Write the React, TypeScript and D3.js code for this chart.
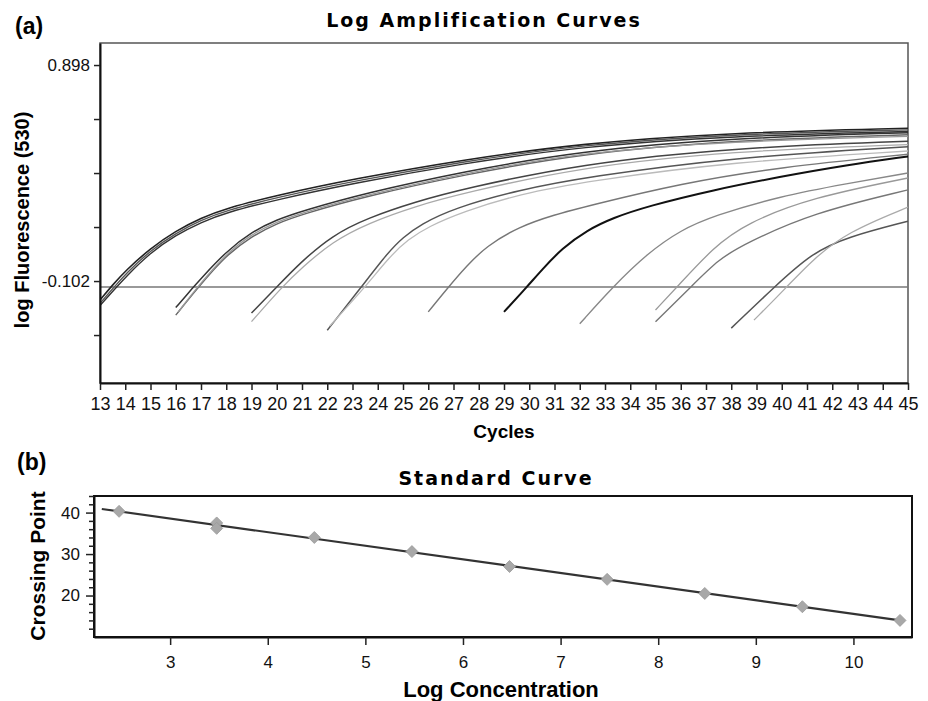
import React, { Component } from "react";
import * as d3 from "d3";

// ---- (a) amplification curves: [cycle, log fluorescence]
const cycleTicks = [13, 14, 15, 16, 17, 18, 19, 20, 21, 22, 23, 24, 25, 26, 27, 28, 29, 30, 31, 32, 33, 34, 35, 36, 37, 38, 39, 40, 41, 42, 43, 44, 45];
const fluorTicks = [0.898, 0.648, 0.398, 0.148, -0.102, -0.352];
const fluorLabels = ["0.898", "", "", "", "-0.102", ""];
const threshold = -0.13;

const curve1a = [[13, -0.19], [13.5, -0.12], [14, -0.055], [15, 0.05], [16, 0.13], [17, 0.19], [18, 0.235], [20, 0.295], [23, 0.37], [27.4, 0.46], [32, 0.535], [38, 0.585], [45, 0.605]];
const curve1b = [[13, -0.205], [13.6, -0.125], [14, -0.07], [15, 0.04], [16, 0.12], [17, 0.18], [18, 0.225], [20, 0.285], [23, 0.36], [27.4, 0.452], [32, 0.528], [38, 0.578], [45, 0.598]];
const curve1c = [[13, -0.215], [13.7, -0.125], [14, -0.085], [15, 0.03], [16, 0.11], [17, 0.17], [18, 0.215], [20, 0.275], [23, 0.35], [27.4, 0.443], [32, 0.52], [38, 0.57], [45, 0.59]];
const curve2a = [[16, -0.225], [16.7, -0.13], [17, -0.09], [18, 0.035], [19, 0.125], [20, 0.182], [21, 0.222], [23.5, 0.305], [27.4, 0.405], [32, 0.5], [38, 0.56], [45, 0.585]];
const curve2b = [[16, -0.26], [16.9, -0.13], [17.5, -0.05], [18, 0.015], [19, 0.105], [20, 0.165], [21, 0.207], [23.5, 0.29], [27.4, 0.39], [32, 0.487], [38, 0.55], [45, 0.575]];
const curve2c = [[16.1, -0.245], [16.85, -0.13], [18, 0.025], [19, 0.115], [20, 0.172], [21, 0.214], [23.5, 0.296], [27.4, 0.396], [32, 0.493], [38, 0.545], [45, 0.568]];
const curve3a = [[19, -0.25], [20, -0.13], [20.9, -0.02], [22.2, 0.11], [23.6, 0.19], [25.5, 0.265], [27.4, 0.325], [32, 0.44], [38, 0.515], [45, 0.545]];
const curve3b = [[19, -0.29], [20.2, -0.13], [21, -0.04], [22.2, 0.08], [23.6, 0.165], [25.5, 0.245], [27.4, 0.305], [32, 0.425], [38, 0.5], [45, 0.53]];
const curve4a = [[22, -0.33], [23.35, -0.13], [24.4, 0.03], [25, 0.1], [25.7, 0.16], [27, 0.235], [29.6, 0.32], [32.3, 0.38], [38, 0.47], [45, 0.52]];
const curve4b = [[22.1, -0.31], [23.5, -0.13], [24.5, 0.015], [25.2, 0.09], [26, 0.15], [27.4, 0.22], [29.6, 0.3], [32.3, 0.36], [38, 0.45], [45, 0.5]];
const curve5 = [[26, -0.245], [26.8, -0.13], [27.5, -0.035], [28.3, 0.06], [29.6, 0.15], [31, 0.205], [32.3, 0.245], [36, 0.35], [39.9, 0.425], [45, 0.485]];
const curve6 = [[29, -0.245], [29.9, -0.13], [30.5, -0.05], [31.3, 0.05], [32.3, 0.134], [33.3, 0.19], [34.7, 0.245], [37.3, 0.32], [39.9, 0.38], [42.6, 0.435], [45, 0.475]];
const curve7 = [[32, -0.3], [33.3, -0.13], [34.7, 0.028], [36, 0.134], [37.3, 0.2], [39.9, 0.29], [42.6, 0.35], [45, 0.398]];
const curve8a = [[35, -0.236], [35.85, -0.13], [37.3, 0.055], [38.6, 0.166], [41.2, 0.285], [45, 0.375]];
const curve8b = [[35, -0.29], [36.4, -0.13], [37.5, 0.0], [38.6, 0.074], [41.2, 0.213], [45, 0.32]];
const curve9a = [[38, -0.32], [39.7, -0.13], [41.2, 0.028], [42.6, 0.102], [45, 0.175]];
const curve9b = [[38.9, -0.283], [40.2, -0.13], [41.2, -0.005], [42.6, 0.125], [45, 0.24]];

// ---- (b) standard curve
const logConc = [2.477, 3.477, 3.477, 4.477, 5.477, 6.477, 7.477, 8.477, 9.477, 10.477];
const crossingPoint = [40.3, 37.5, 36.2, 34.0, 30.6, 27.0, 23.9, 20.5, 17.3, 14.0];
const concTicks = [3, 4, 5, 6, 7, 8, 9, 10];
const cpTicks = [20, 30, 40];
const cpMinorTicks = [12, 14, 16, 18, 22, 24, 26, 28, 32, 34, 36, 38, 42, 44];

const sans = "'Liberation Sans', Arial, sans-serif";
const titleFont = "'DejaVu Sans', Verdana, sans-serif";

class App extends Component {
  ref = React.createRef<SVGSVGElement>();

  componentDidMount() {
    document.body.style.margin = "0";
    this.drawChart();
  }

  drawChart() {
    const svg = d3.select(this.ref.current);
    svg.selectAll("*").remove();

    // ===== (a) Log Amplification Curves
    const x = d3.scaleLinear().domain([13, 45]).range([100, 908]);
    const y = d3.scaleLinear().domain([-0.574, 1.0]).range([383, 43]);

    svg.append("text").attr("x", 15).attr("y", 34).text("(a)")
      .style("font-family", sans).style("font-weight", "bold").style("font-size", "23px");

    svg.append("text").attr("x", 484).attr("y", 27).attr("text-anchor", "middle")
      .text("Log Amplification Curves")
      .style("font-family", titleFont).style("font-weight", "bold")
      .style("font-size", "19px").style("letter-spacing", "2px");

    svg.append("rect").attr("x", 100).attr("y", 43).attr("width", 808).attr("height", 340)
      .attr("fill", "white").attr("stroke", "#555").attr("stroke-width", 1.5);

    svg.append("defs").append("clipPath").attr("id", "plotA")
      .append("rect").attr("x", 100).attr("y", 43).attr("width", 808).attr("height", 340);

    svg.append("line")
      .attr("x1", x(13)).attr("x2", x(45)).attr("y1", y(threshold)).attr("y2", y(threshold))
      .attr("stroke", "#777").attr("stroke-width", 1.5);

    const curves = [curve1a, curve1b, curve1c, curve2a, curve2b, curve2c, curve3a, curve3b,
      curve4a, curve4b, curve5, curve6, curve7, curve8a, curve8b, curve9a, curve9b];
    const colors = ["#222", "#555", "#333", "#333", "#666", "#999", "#444", "#aaa",
      "#555", "#bbb", "#777", "#111", "#888", "#999", "#777", "#555", "#aaa"];
    const widths = [1.6, 1.4, 1.4, 1.5, 1.4, 1.3, 1.5, 1.3, 1.5, 1.3, 1.4, 2, 1.4, 1.3, 1.4, 1.5, 1.3];

    const line = d3.line<number[]>()
      .x(d => x(d[0]))
      .y(d => y(d[1]))
      .curve(d3.curveBasis);

    svg.append("g").attr("clip-path", "url(#plotA)")
      .selectAll("path")
      .data(curves)
      .enter()
      .append("path")
      .attr("d", d => line(d))
      .attr("fill", "none")
      .attr("stroke", (d, i) => colors[i])
      .attr("stroke-width", (d, i) => widths[i]);

    const xAxisA = svg.append("g")
      .attr("transform", "translate(0, 383)")
      .call(d3.axisBottom(x).tickValues(cycleTicks).tickFormat(d3.format("d"))
        .tickSize(7).tickPadding(7).tickSizeOuter(0));
    xAxisA.selectAll("text").style("font-family", sans).style("font-size", "18px").attr("fill", "#111");

    const yAxisA = svg.append("g")
      .attr("transform", "translate(100, 0)")
      .call(d3.axisLeft(y).tickValues(fluorTicks).tickFormat((d, i) => fluorLabels[i])
        .tickSize(6).tickPadding(4).tickSizeOuter(0));
    yAxisA.selectAll("text").style("font-family", sans).style("font-size", "17px").attr("fill", "#111");

    [xAxisA, yAxisA].forEach(g => {
      g.select(".domain").attr("stroke", "#111").attr("stroke-width", 2);
      g.selectAll(".tick line").attr("stroke", "#222").attr("stroke-width", 1.5);
    });

    svg.append("text").attr("x", 504).attr("y", 438).attr("text-anchor", "middle").text("Cycles")
      .style("font-family", sans).style("font-weight", "bold").style("font-size", "19px");

    svg.append("text").attr("transform", "translate(29, 220) rotate(-90)").attr("text-anchor", "middle")
      .text("log Fluorescence (530)")
      .style("font-family", sans).style("font-weight", "bold").style("font-size", "20px");

    // ===== (b) Standard Curve
    const xb = d3.scaleLinear().domain([2.22, 10.6]).range([94, 912]);
    const yb = d3.scaleLinear().domain([10, 44]).range([637, 496]);

    svg.append("text").attr("x", 17).attr("y", 470).text("(b)")
      .style("font-family", sans).style("font-weight", "bold").style("font-size", "23px");

    svg.append("text").attr("x", 496).attr("y", 485).attr("text-anchor", "middle")
      .text("Standard Curve")
      .style("font-family", titleFont).style("font-weight", "bold")
      .style("font-size", "19px").style("letter-spacing", "2px");

    svg.append("rect").attr("x", 94).attr("y", 496).attr("width", 818).attr("height", 141)
      .attr("fill", "white").attr("stroke", "#111").attr("stroke-width", 2);

    // least squares fit through the crossing points
    const mx = d3.mean(logConc) as number;
    const my = d3.mean(crossingPoint) as number;
    const slope = d3.sum(logConc, (v, i) => (v - mx) * (crossingPoint[i] - my)) /
      d3.sum(logConc, v => (v - mx) * (v - mx));
    const fit = (v: number) => my + slope * (v - mx);
    const fitRange = [2.3, 10.477];

    svg.append("path")
      .attr("d", d3.line<number>().x(v => xb(v)).y(v => yb(fit(v)))(fitRange))
      .attr("fill", "none").attr("stroke", "#333").attr("stroke-width", 2.2);

    const diamond = d3.symbol().type(d3.symbolSquare).size(72);
    svg.append("g").selectAll("path")
      .data(logConc)
      .enter()
      .append("path")
      .attr("d", diamond)
      .attr("transform", (d, i) => `translate(${xb(d)}, ${yb(crossingPoint[i])}) rotate(45)`)
      .attr("fill", "#a8a8a8")
      .attr("stroke", "#9c9c9c")
      .attr("stroke-width", 0.8);

    const xAxisB = svg.append("g")
      .attr("transform", "translate(0, 637)")
      .call(d3.axisBottom(xb).tickValues(concTicks).tickFormat(d3.format("d"))
        .tickSize(8).tickPadding(11).tickSizeOuter(0));
    xAxisB.selectAll("text").style("font-family", sans).style("font-size", "17px").attr("fill", "#111");

    const yAxisB = svg.append("g")
      .attr("transform", "translate(94, 0)")
      .call(d3.axisLeft(yb).tickValues(cpTicks).tickFormat(d3.format("d"))
        .tickSize(8).tickPadding(6).tickSizeOuter(0));
    yAxisB.selectAll("text").style("font-family", sans).style("font-size", "17px").attr("fill", "#111");

    svg.append("g")
      .attr("transform", "translate(94, 0)")
      .call(d3.axisLeft(yb).tickValues(cpMinorTicks).tickFormat(() => "").tickSize(5).tickSizeOuter(0))
      .call(g => g.select(".domain").remove())
      .selectAll(".tick line").attr("stroke", "#222").attr("stroke-width", 1.5);

    [xAxisB, yAxisB].forEach(g => {
      g.select(".domain").attr("stroke", "#111").attr("stroke-width", 2);
      g.selectAll(".tick line").attr("stroke", "#222").attr("stroke-width", 1.5);
    });

    svg.append("text").attr("x", 501).attr("y", 697).attr("text-anchor", "middle").text("Log Concentration")
      .style("font-family", sans).style("font-weight", "bold").style("font-size", "22px");

    svg.append("text").attr("transform", "translate(45, 566) rotate(-90)").attr("text-anchor", "middle")
      .text("Crossing Point")
      .style("font-family", sans).style("font-weight", "bold").style("font-size", "21px");
  }

  render() {
    return <svg ref={this.ref} width={928} height={701} style={{ display: "block", background: "white" }}></svg>;
  }
}

export default App;
